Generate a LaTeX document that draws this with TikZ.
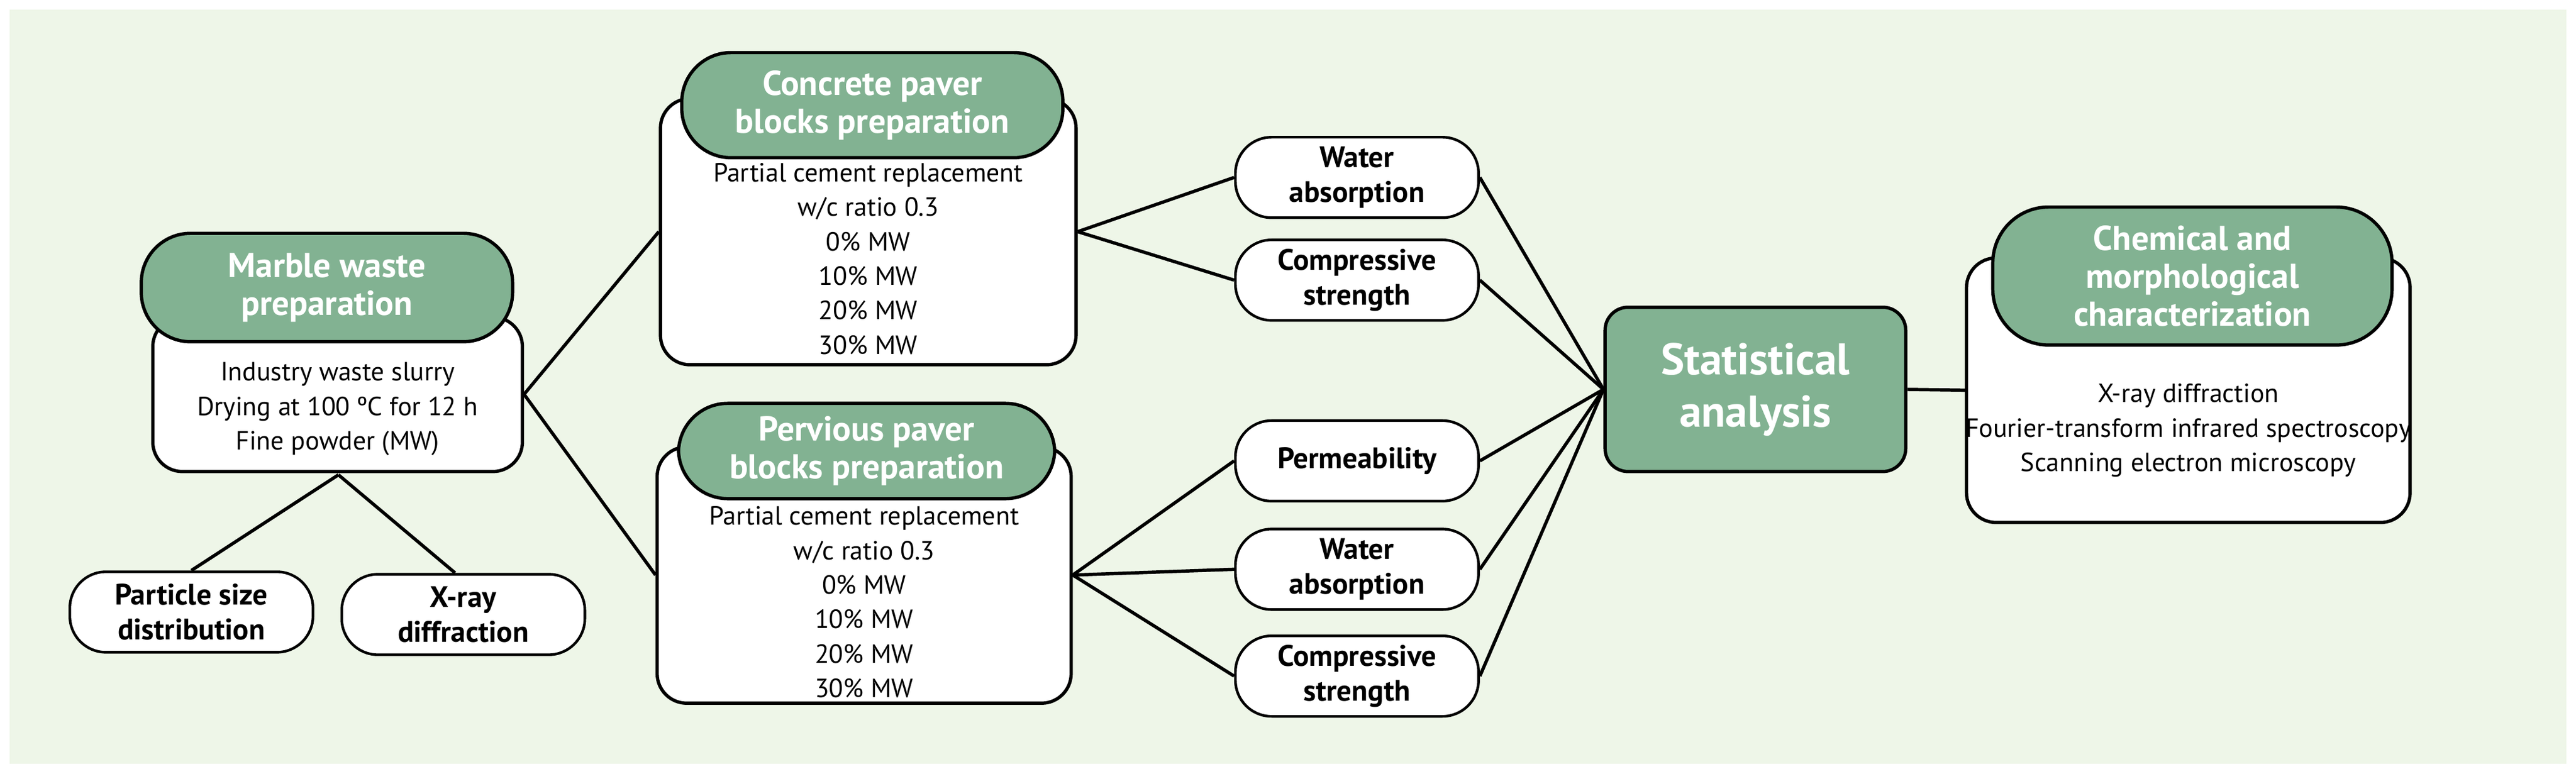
\documentclass[tikz,border=0pt]{standalone}
\usepackage{fontspec}
\setmainfont{PT Sans}
\begin{document}
\begin{tikzpicture}[x=1pt,y=-1pt,
  bx/.style={draw=black,line width=2pt,fill=white,rounded corners=18pt,inner sep=0pt},
  hd/.style={draw=black,line width=2pt,fill=hgreen,rounded corners=30pt,inner sep=0pt,text=white,font=\fontsize{21}{23}\selectfont\bfseries,align=center},
  lb/.style={draw=black,line width=1.6pt,fill=white,rounded corners=22pt,inner sep=0pt,minimum width=148pt,minimum height=49pt,font=\fontsize{18}{21}\selectfont\bfseries,align=center},
  tx/.style={font=\fontsize{16}{21}\selectfont,align=center,inner sep=0pt},
  ln/.style={line width=2pt}]
\definecolor{hgreen}{HTML}{82B292}
\definecolor{bg}{HTML}{EEF6E8}
\fill[white] (0,0) rectangle (1568,471);
\fill[bg] (6,6) rectangle (1562,465);
% Marble
\node[bx,minimum width=225pt,minimum height=94pt] (mb) at (205.5,240) {};
\node[hd,minimum width=226pt,minimum height=66pt] (mh) at (199,175) {Marble waste\\preparation};
\node[tx] (mt) at (205.5,249) {Industry waste slurry\\Drying at 100 ºC for 12 h\\Fine powder (MW)};
\node[lb] (ps) at (116.5,372.5) {Particle size\\distribution};
\node[lb] (xr) at (282,374) {X-ray\\diffraction};
% Concrete
\node[bx,minimum width=253pt,minimum height=162pt] (cb) at (528.5,141) {};
\node[hd,minimum width=232pt,minimum height=64pt] (ch) at (531,64) {Concrete paver\\blocks preparation};
\node[tx] (ct) at (528.5,157.5) {Partial cement replacement\\w/c ratio 0.3\\0\% MW\\10\% MW\\20\% MW\\30\% MW};
% Pervious
\node[bx,minimum width=252pt,minimum height=156pt] (pb) at (526,350) {};
\node[hd,minimum width=229pt,minimum height=58pt] (ph) at (527.5,274.5) {Pervious paver\\blocks preparation};
\node[tx] (pt) at (526,366.5) {Partial cement replacement\\w/c ratio 0.3\\0\% MW\\10\% MW\\20\% MW\\30\% MW};
% test labels
\node[lb] (wa1) at (826,108) {Water\\absorption};
\node[lb] (cs1) at (826,170.5) {Compressive\\strength};
\node[lb] (pm) at (826,280.5) {Permeability};
\node[lb] (wa2) at (826,346.5) {Water\\absorption};
\node[lb] (cs2) at (826,411.5) {Compressive\\strength};
% Statistical
\node[draw=black,line width=2pt,fill=hgreen,rounded corners=14pt,minimum width=183pt,minimum height=100pt,text=white,font=\fontsize{27}{32}\selectfont\bfseries,align=center] (st) at (1068.5,237) {Statistical\\analysis};
% Chemical
\node[bx,minimum width=270pt,minimum height=161pt] (kb) at (1332,237.5) {};
\node[hd,minimum width=243pt,minimum height=84pt,rounded corners=34pt] (kh) at (1334.5,168) {Chemical and\\morphological\\characterization};
\node[tx] (kt) at (1332,262) {X-ray diffraction\\Fourier-transform infrared spectroscopy\\Scanning electron microscopy};
% connectors
\coordinate (mo) at (206,289);
\draw[ln] (mo) -- (ps.north);
\draw[ln] (mo) -- ([xshift=-5pt]xr.north);
\draw[ln] (mb.east) -- (cb.west);
\draw[ln] (mb.east) -- (pb.west);
\draw[ln] (cb.east) -- (wa1.west);
\draw[ln] (cb.east) -- (cs1.west);
\draw[ln] (pb.east) -- (pm.west);
\draw[ln] (pb.east) -- (wa2.west);
\draw[ln] (pb.east) -- (cs2.west);
\foreach \n in {wa1,cs1,pm,wa2,cs2} \draw[ln] (\n.east) -- (st.west);
\draw[ln] (st.east) -- (kb.west);
\end{tikzpicture}
\end{document}
